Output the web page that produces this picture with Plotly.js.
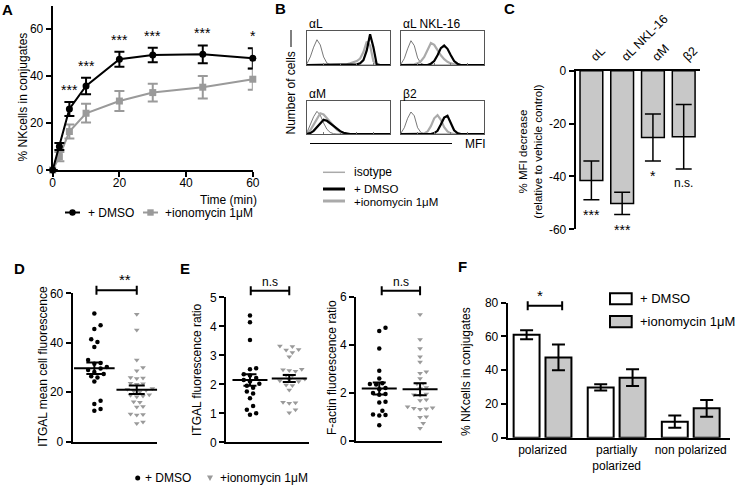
<!DOCTYPE html>
<html>
<head>
<meta charset="utf-8">
<script src="https://cdn.plot.ly/plotly-3.0.1.min.js"></script>
<style>html,body{margin:0;padding:0;background:#fff}#fig{width:737px;height:488px}</style>
</head>
<body>
<div id="fig"></div>
<script>
const W = 737, H = 488;

// A - conjugate kinetics
const timeMin = [0, 2, 5, 10, 20, 30, 45, 60];
const conjDmso = [0, 10, 26, 35.8, 47.2, 49, 49.3, 47.6];
const conjDmsoErr = [0, 1.5, 3, 3.5, 3.2, 3.1, 3.8, 4.3];
const conjIono = [0, 5.7, 16.4, 24.2, 29.4, 33, 35.3, 38.7];
const conjIonoErr = [0, 2, 3, 4, 4.3, 3.8, 4.8, 4.5];
const conjSig = ['', '', '***', '***', '***', '***', '***', '*'];

// B - flow histograms (MFI bins, normalised counts)
const mfiBins = [0,1,2,3,4,5,6,7,8,9,10,11,12,13,14,15,16,17,18,19,20,21,22,23,24,25];
const isoAL   = [0.04,0.25,0.55,0.78,0.62,0.25,0.06,0.01,0,0,0,0,0,0,0,0,0,0,0,0,0,0,0,0,0,0];
const ionoAL  = [0,0,0,0,0,0,0,0,0,0,0,0.01,0.02,0.05,0.08,0.12,0.2,0.4,0.72,0.6,0.12,0.01,0,0,0,0];
const dmsoAL  = [0,0,0,0,0,0,0,0,0,0,0,0,0,0,0,0.02,0.05,0.15,0.45,0.95,0.55,0.02,0,0,0,0];
const isoNKL  = [0.03,0.2,0.5,0.75,0.6,0.22,0.05,0.01,0,0,0,0,0,0,0,0,0,0,0,0,0,0,0,0,0,0];
const ionoNKL = [0,0,0,0,0.02,0.05,0.12,0.25,0.45,0.68,0.62,0.45,0.3,0.18,0.1,0.05,0.02,0,0,0,0,0,0,0,0,0];
const dmsoNKL = [0,0,0,0,0,0,0,0,0,0.04,0.12,0.3,0.52,0.6,0.5,0.3,0.12,0.04,0,0,0,0,0,0,0,0];
const isoAM   = [0.05,0.3,0.55,0.72,0.6,0.35,0.15,0.05,0.01,0,0,0,0,0,0,0,0,0,0,0,0,0,0,0,0,0];
const ionoAM  = [0.02,0.12,0.3,0.5,0.66,0.62,0.5,0.38,0.25,0.14,0.07,0.03,0,0,0,0,0,0,0,0,0,0,0,0,0,0];
const dmsoAM  = [0,0.03,0.1,0.22,0.35,0.45,0.42,0.33,0.24,0.16,0.09,0.04,0.01,0,0,0,0,0,0,0,0,0,0,0,0,0];
const isoB2   = [0.03,0.2,0.5,0.7,0.58,0.2,0.05,0.01,0,0,0,0,0,0,0,0,0,0,0,0,0,0,0,0,0,0];
const ionoB2  = [0,0,0,0,0,0,0,0.02,0.08,0.25,0.5,0.6,0.45,0.22,0.08,0.02,0,0,0,0,0,0,0,0,0,0];
const dmsoB2  = [0,0,0,0,0,0,0,0,0,0,0.03,0.1,0.3,0.52,0.58,0.35,0.12,0.03,0,0,0,0,0,0,0,0];
const histNames = ['αL', 'αL NKL-16', 'αM', 'β2'];

// C - MFI decrease
const integrins = ['αL', 'αL NKL-16', 'αM', 'β2'];
const mfiDecrease = [-41.5, -50.2, -25.3, -25];
const mfiErr = [7.3, 4.2, 8.9, 12.2];
const mfiSig = ['***', '***', '*', 'n.s.'];

// D - ITGAL mean cell fluorescence
const itgalDmso = [51.8, 47.1, 45.6, 41.4, 40.3, 38.3, 33.0, 31.8, 31.5, 30.2, 29.6, 29.0, 28.2, 27.4, 26.5, 26.0, 24.3, 16.6, 15.2, 13.2, 12.5];
const itgalIono = [51.5, 45.2, 33.0, 30.0, 28.7, 26.0, 25.8, 25.6, 23.6, 23.4, 23.2, 21.5, 21.2, 20.8, 20.5, 20.2, 19.0, 18.8, 18.5, 18.2, 16.2, 16.0, 14.2, 14.0, 11.2, 11.0, 10.8, 8.0, 7.4];
const itgalMean = [29.7, 21.0];
const itgalSem = [2.3, 1.7];

// E - ratios
const ratioDmso = [4.37, 4.14, 3.53, 2.55, 2.52, 2.35, 2.30, 2.22, 2.15, 2.10, 2.02, 1.95, 1.88, 1.75, 1.68, 1.52, 1.25, 1.12, 1.0, 0.95];
const ratioIono = [3.32, 3.30, 3.20, 3.18, 3.10, 2.95, 2.52, 2.50, 2.48, 2.45, 2.32, 2.30, 2.18, 2.15, 2.12, 2.10, 1.98, 1.96, 1.80, 1.38, 1.36, 1.35, 1.12, 1.02];
const ratioMean = [2.15, 2.2];
const ratioSem = [0.2, 0.12];
const actinDmso = [4.71, 4.57, 3.85, 2.92, 2.60, 2.40, 2.37, 2.35, 2.20, 2.15, 2.00, 1.95, 1.92, 1.63, 1.60, 1.26, 1.10, 1.08, 1.06, 0.66];
const actinIono = [5.26, 4.22, 3.85, 3.50, 3.28, 2.88, 2.82, 2.60, 2.40, 2.38, 2.22, 2.18, 1.95, 1.92, 1.90, 1.72, 1.68, 1.42, 1.38, 1.36, 1.34, 1.32, 1.01, 0.99, 0.74, 0.53];
const actinMean = [2.18, 2.15];
const actinSem = [0.25, 0.25];

// F - polarization
const polCats = ['polarized', 'partially<br>polarized', 'non polarized'];
const polDmso = [61, 29.8, 9.5];
const polDmsoErr = [2.7, 1.9, 3.6];
const polIono = [47.6, 35.6, 17.4];
const polIonoErr = [7.7, 5, 5];

const FONT = 'Liberation Sans, Arial, sans-serif';
const GREY = '#9a9a9a';
const px = x => x / W;
const py = y => 1 - y / H;

// panel boxes in pixels
const geo = {
  A:  {x: [52.7, 252.8], y: [5.8, 170], r: [[0, 60], [0, 70]]},
  B1: {x: [307, 390], y: [31, 65]},
  B2: {x: [401, 484], y: [31, 65]},
  B3: {x: [307, 390], y: [101, 134]},
  B4: {x: [401, 484], y: [101, 134]},
  C:  {x: [575.7, 700], y: [70.7, 229.3], r: [[-0.51, 3.53], [-60, 0]]},
  D:  {x: [72.7, 156.7], y: [293.3, 441.7], r: [[-0.51, 1.47], [0, 60]]},
  E1: {x: [226, 309.3], y: [297.3, 442.3], r: [[-0.61, 1.51], [0, 5]]},
  E2: {x: [356, 441.7], y: [296.7, 441], r: [[-0.57, 1.53], [0, 6]]},
  F:  {x: [507.7, 730], y: [302.7, 437.7], r: [[-0.47, 2.53], [0, 80]]}
};
const dx = g => [px(g.x[0]), px(g.x[1])];
const dy = g => [py(g.y[1]), py(g.y[0])];
// data value -> page pixel, for marks that sit above a panel's range
const toPxX = (g, v) => g.x[0] + (v - g.r[0][0]) / (g.r[0][1] - g.r[0][0]) * (g.x[1] - g.x[0]);
const toPxY = (g, v) => g.y[1] - (v - g.r[1][0]) / (g.r[1][1] - g.r[1][0]) * (g.y[1] - g.y[0]);

const axBase = {
  showgrid: false, zeroline: false, showline: true, linecolor: '#000', linewidth: 2,
  ticks: 'outside', ticklen: 5, tickwidth: 2, tickcolor: '#000',
  tickfont: {family: FONT, size: 12, color: '#000'}, fixedrange: true
};
const ax = o => Object.assign({}, axBase, o);

const layout = {
  width: W, height: H, margin: {l: 0, r: 0, t: 0, b: 0},
  paper_bgcolor: '#fff', plot_bgcolor: 'rgba(0,0,0,0)',
  showlegend: false, barmode: 'overlay',
  font: {family: FONT, size: 12, color: '#000'},
  xaxis:  ax({domain: dx(geo.A), anchor: 'y', range: geo.A.r[0], tickvals: [0, 20, 40, 60], ticklabelstandoff: -4}),
  yaxis:  ax({domain: dy(geo.A), anchor: 'x', range: geo.A.r[1], tickvals: [0, 20, 40, 60]}),
  xaxis6: ax({domain: dx(geo.C), anchor: 'y6', range: geo.C.r[0], type: 'category', side: 'top',
              ticks: '', tickangle: -45, tickfont: {family: FONT, size: 12.5, color: '#000'}}),
  yaxis6: ax({domain: dy(geo.C), anchor: 'x6', range: geo.C.r[1], tickvals: [0, -20, -40, -60], ticktext: ['0', '-20', '-40', '-60']}),
  xaxis7: ax({domain: dx(geo.D), anchor: 'y7', range: geo.D.r[0], ticks: '', showticklabels: false}),
  yaxis7: ax({domain: dy(geo.D), anchor: 'x7', range: geo.D.r[1], tickvals: [0, 20, 40, 60]}),
  xaxis8: ax({domain: dx(geo.E1), anchor: 'y8', range: geo.E1.r[0], ticks: '', showticklabels: false}),
  yaxis8: ax({domain: dy(geo.E1), anchor: 'x8', range: geo.E1.r[1], tickvals: [0, 1, 2, 3, 4, 5]}),
  xaxis9: ax({domain: dx(geo.E2), anchor: 'y9', range: geo.E2.r[0], ticks: '', showticklabels: false}),
  yaxis9: ax({domain: dy(geo.E2), anchor: 'x9', range: geo.E2.r[1], tickvals: [0, 2, 4, 6]}),
  xaxis10: ax({domain: dx(geo.F), anchor: 'y10', range: geo.F.r[0], ticks: '', tickvals: [0, 1, 2], ticktext: polCats}),
  yaxis10: ax({domain: dy(geo.F), anchor: 'x10', range: geo.F.r[1], tickvals: [0, 20, 40, 60, 80]}),
  shapes: [], annotations: []
};

// B histogram boxes
['B1', 'B2', 'B3', 'B4'].forEach((k, i) => {
  const n = i + 2;
  layout['xaxis' + n] = {domain: dx(geo[k]), anchor: 'y' + n, range: [0, 25], showgrid: false, zeroline: false,
    showline: true, mirror: true, linecolor: '#555', linewidth: 1, ticks: 'inside', ticklen: 2, tickcolor: '#777',
    tickvals: [5, 10, 15, 20], showticklabels: false, fixedrange: true};
  layout['yaxis' + n] = {domain: dy(geo[k]), anchor: 'x' + n, range: [0, 1.05], showgrid: false, zeroline: false,
    showline: true, mirror: true, linecolor: '#555', linewidth: 1, showticklabels: false, fixedrange: true};
});

const traces = [];

// A
traces.push({x: timeMin, y: conjIono, xaxis: 'x', yaxis: 'y', mode: 'lines+markers', cliponaxis: false,
  line: {color: GREY, width: 2}, marker: {symbol: 'square', size: 7, color: GREY},
  error_y: {type: 'data', array: conjIonoErr, color: GREY, thickness: 2, width: 5}});
traces.push({x: timeMin, y: conjDmso, xaxis: 'x', yaxis: 'y', mode: 'lines+markers', cliponaxis: false,
  line: {color: '#000', width: 2}, marker: {symbol: 'circle', size: 7, color: '#000'},
  error_y: {type: 'data', array: conjDmsoErr, color: '#000', thickness: 2, width: 5}});
timeMin.forEach((t, i) => {
  if (!conjSig[i]) return;
  layout.annotations.push({x: t, y: conjDmso[i] + conjDmsoErr[i], xref: 'x', yref: 'y', text: conjSig[i],
    showarrow: false, yanchor: 'bottom', yshift: 2, font: {size: 14}});
});

// B
const histSets = [[isoAL, ionoAL, dmsoAL], [isoNKL, ionoNKL, dmsoNKL], [isoAM, ionoAM, dmsoAM], [isoB2, ionoB2, dmsoB2]];
const histStyle = [{color: '#555', width: 0.8}, {color: '#aaa', width: 2.2}, {color: '#000', width: 2.2}];
histSets.forEach((set, i) => {
  set.forEach((ys, j) => {
    traces.push({x: mfiBins, y: ys, xaxis: 'x' + (i + 2), yaxis: 'y' + (i + 2), mode: 'lines',
      line: Object.assign({shape: 'linear'}, histStyle[j]), hoverinfo: 'skip'});
  });
  const g = geo['B' + (i + 1)];
  layout.annotations.push({x: px(g.x[0]), y: py(g.y[0] - 7), xref: 'paper', yref: 'paper', text: histNames[i],
    showarrow: false, xanchor: 'left', yanchor: 'middle', font: {size: 12}});
});

// C
traces.push({type: 'bar', x: integrins, y: mfiDecrease, xaxis: 'x6', yaxis: 'y6', width: 0.74,
  marker: {color: '#c8c8c8', line: {color: '#000', width: 1.5}},
  error_y: {type: 'data', array: mfiErr, color: '#000', thickness: 1.5, width: 8}});
integrins.forEach((c, i) => {
  layout.annotations.push({x: c, y: mfiDecrease[i] - mfiErr[i], xref: 'x6', yref: 'y6', text: mfiSig[i],
    showarrow: false, yanchor: 'top', yshift: -5, font: {size: mfiSig[i] === 'n.s.' ? 12 : 14}});
});

// beeswarm offsets (in x units) so dots don't overlap
function swarm(vals, center, g, diam) {
  const pyu = (g.y[1] - g.y[0]) / (g.r[1][1] - g.r[1][0]);
  const pxu = (g.x[1] - g.x[0]) / (g.r[0][1] - g.r[0][0]);
  const order = vals.map((v, i) => i).sort((a, b) => vals[a] - vals[b]);
  const placed = [];
  const xs = new Array(vals.length);
  order.forEach(i => {
    const yp = vals[i] * pyu;
    for (let k = 0; k < 60; k++) {
      const off = (k % 2 ? 1 : -1) * Math.ceil(k / 2) * diam * 0.6;
      if (placed.every(p => (p[0] - off) ** 2 + (p[1] - yp) ** 2 >= diam * diam)) {
        placed.push([off, yp]);
        xs[i] = center + off / pxu;
        break;
      }
    }
  });
  return xs;
}

function dotPanel(n, g, a, b, mean, sem, lineW, capW) {
  traces.push({x: swarm(a, 0, g, 5.2), y: a, xaxis: 'x' + n, yaxis: 'y' + n, mode: 'markers', cliponaxis: false,
    marker: {symbol: 'circle', size: 4.5, color: '#000'}});
  traces.push({x: swarm(b, 1, g, 5.2), y: b, xaxis: 'x' + n, yaxis: 'y' + n, mode: 'markers', cliponaxis: false,
    marker: {symbol: 'triangle-down', size: 5, color: GREY}});
  traces.push({x: [0, 1], y: mean, xaxis: 'x' + n, yaxis: 'y' + n, mode: 'markers', cliponaxis: false,
    marker: {symbol: 'line-ew', size: lineW, color: '#000', line: {color: '#000', width: 2}},
    error_y: {type: 'data', array: sem, color: '#000', thickness: 2, width: capW}});
}
dotPanel(7, geo.D, itgalDmso, itgalIono, itgalMean, itgalSem, 29, 8);
dotPanel(8, geo.E1, ratioDmso, ratioIono, ratioMean, ratioSem, 25, 6.5);
dotPanel(9, geo.E2, actinDmso, actinIono, actinMean, actinSem, 25, 6.5);

// F
traces.push({type: 'bar', x: [0, 1, 2], y: polDmso, xaxis: 'x10', yaxis: 'y10', width: 0.35, offset: -0.39,
  marker: {color: '#fff', line: {color: '#000', width: 2}},
  error_y: {type: 'data', array: polDmsoErr, color: '#000', thickness: 2, width: 6.5}});
traces.push({type: 'bar', x: [0, 1, 2], y: polIono, xaxis: 'x10', yaxis: 'y10', width: 0.35, offset: 0.04,
  marker: {color: '#c8c8c8', line: {color: '#000', width: 2}},
  error_y: {type: 'data', array: polIonoErr, color: '#000', thickness: 2, width: 6.5}});

// significance brackets, drawn on the page so they are not clipped by the panel
function bracket(g, x0, x1, y, label, size) {
  const X0 = toPxX(g, x0), X1 = toPxX(g, x1), Y = toPxY(g, y);
  layout.shapes.push({type: 'path', xref: 'paper', yref: 'paper', line: {color: '#000', width: 2},
    path: `M${px(X0)},${py(Y - 4.5)} L${px(X0)},${py(Y + 4.5)} M${px(X0)},${py(Y)} L${px(X1)},${py(Y)} M${px(X1)},${py(Y - 4.5)} L${px(X1)},${py(Y + 4.5)}`});
  layout.annotations.push({x: px((X0 + X1) / 2), y: py(Y), xref: 'paper', yref: 'paper', text: label, showarrow: false,
    yanchor: 'bottom', yshift: 0, font: {size: size}});
}
bracket(geo.D, 0.05, 1.0, 61.2, '**', 15);
bracket(geo.E1, 0.02, 1.0, 5.23, 'n.s', 12);
bracket(geo.E2, 0.06, 1.0, 6.25, 'n.s', 12);
bracket(geo.F, -0.2, 0.265, 78.2, '*', 15);

// free text
function txt(x, y, text, o) {
  layout.annotations.push(Object.assign({x: px(x), y: py(y), xref: 'paper', yref: 'paper', text: text,
    showarrow: false, xanchor: 'center', yanchor: 'middle', font: {size: 12}}, o || {}));
}
[['A', 8, 10], ['B', 280, 9], ['C', 510, 9], ['D', 19, 268], ['E', 185, 268], ['F', 462, 266]].forEach(l =>
  txt(l[1], l[2], '<b>' + l[0] + '</b>', {font: {size: 15}}));

txt(22.7, 96.7, '% NKcells in conjugates', {textangle: -90});
txt(259, 199.5, 'Time (min)', {xanchor: 'right'});
txt(291, 93.5, 'Number of cells', {textangle: -90});
txt(463, 143.5, 'MFI', {xanchor: 'left'});
txt(531, 151.7, '% MFI decrease<br>(relative to vehicle control)', {textangle: -90, font: {size: 11.5}});
txt(42.7, 366, 'ITGAL mean cell fluorescence', {textangle: -90});
txt(197, 370, 'ITGAL fluorescence ratio', {textangle: -90});
txt(332, 368, 'F-actin fluorescence ratio', {textangle: -90});
txt(466, 372, '% NKcells in conjugates', {textangle: -90});

// B axis decoration
const S = layout.shapes;
const pline = (x0, y0, x1, y1, color, w) => S.push({type: 'line', xref: 'paper', yref: 'paper',
  x0: px(x0), y0: py(y0), x1: px(x1), y1: py(y1), line: {color: color, width: w}});
pline(291, 30, 291, 47, '#000', 1);
pline(310, 143.5, 452, 143.5, '#000', 1.2);

// legends
// A
pline(65, 212.5, 80, 212.5, '#000', 2);
S.push({type: 'circle', xref: 'paper', yref: 'paper', x0: px(69.3), x1: px(75.7), y0: py(209.3), y1: py(215.7), fillcolor: '#000', line: {width: 0}});
txt(86, 212.5, '+ DMSO', {xanchor: 'left'});
pline(143, 212.5, 158, 212.5, GREY, 2);
S.push({type: 'rect', xref: 'paper', yref: 'paper', x0: px(147.3), x1: px(153.7), y0: py(209.3), y1: py(215.7), fillcolor: GREY, line: {width: 0}});
txt(163, 212.5, '+ionomycin 1μM', {xanchor: 'left'});
// B
pline(323, 172.3, 345, 172.3, '#aaa', 1.5);
txt(352, 172.3, 'isotype', {xanchor: 'left'});
pline(323, 189, 345, 189, '#000', 3);
txt(352, 188.5, '+ DMSO', {xanchor: 'left', font: {size: 11.5}});
pline(323, 201, 345, 201, '#aaa', 3);
txt(352, 201.5, '+ionomycin 1μM', {xanchor: 'left', font: {size: 11.5}});
// D/E
S.push({type: 'circle', xref: 'paper', yref: 'paper', x0: px(135.2), x1: px(140.2), y0: py(475.5), y1: py(480.5), fillcolor: '#000', line: {width: 0}});
txt(143, 478, '+ DMSO', {xanchor: 'left'});
S.push({type: 'path', xref: 'paper', yref: 'paper', fillcolor: GREY, line: {width: 0},
  path: `M${px(207)},${py(475.5)} L${px(213)},${py(475.5)} L${px(210)},${py(481)} Z`});
txt(218, 478, '+ionomycin 1μM', {xanchor: 'left'});
// F
S.push({type: 'rect', xref: 'paper', yref: 'paper', x0: px(610), x1: px(631.7), y0: py(304.3), y1: py(293.3), fillcolor: '#fff', line: {color: '#000', width: 2}});
S.push({type: 'rect', xref: 'paper', yref: 'paper', x0: px(610), x1: px(631.7), y0: py(327.3), y1: py(316), fillcolor: '#c8c8c8', line: {color: '#000', width: 2}});
txt(638, 298.8, '+ DMSO', {xanchor: 'left', font: {size: 13}});
txt(638, 321.7, '+ionomycin 1μM', {xanchor: 'left', font: {size: 13}});

Plotly.newPlot('fig', traces, layout, {displayModeBar: false, staticPlot: true});
</script>
</body>
</html>
